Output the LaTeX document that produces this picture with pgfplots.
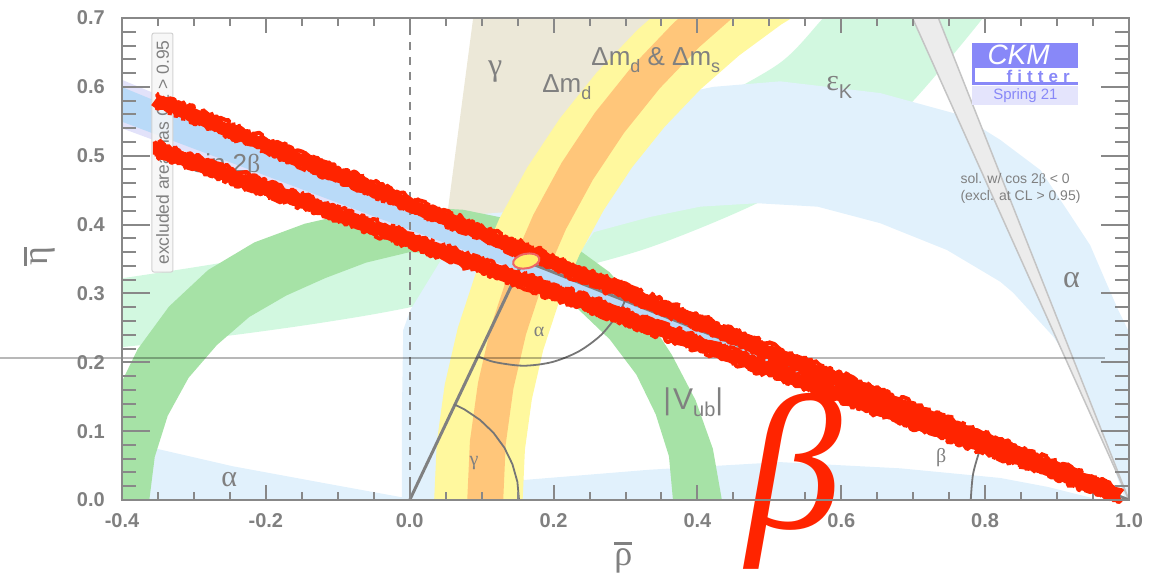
\documentclass[border=0pt]{standalone}
\usepackage{pgfplots}
\pgfplotsset{compat=1.18}
\usepackage{fontspec}
\setmainfont{Liberation Sans}
\newfontfamily\grk{Liberation Serif}
\usetikzlibrary{decorations.pathmorphing}

\definecolor{axgray}{RGB}{136,136,136}
\definecolor{labgray}{RGB}{128,128,128}
\definecolor{arcgray}{RGB}{118,118,118}
\definecolor{epsK}{RGB}{210,248,224}
\definecolor{gam}{RGB}{236,232,216}
\definecolor{alp}{RGB}{225,241,252}
\definecolor{vub}{RGB}{166,226,166}
\definecolor{dmd}{RGB}{255,248,158}
\definecolor{dms}{RGB}{255,198,122}
\definecolor{sbout}{RGB}{226,226,250}
\definecolor{sbin}{RGB}{185,218,248}
\definecolor{cosband}{RGB}{236,236,236}
\definecolor{cosedge}{RGB}{196,196,196}
\definecolor{scrib}{RGB}{255,36,0}
\definecolor{ckmblue}{RGB}{136,136,248}
\definecolor{ckmlight}{RGB}{228,228,252}
\definecolor{ellfill}{RGB}{255,238,110}
\definecolor{elldraw}{RGB}{238,100,100}

% letter with a bar over it
\newcommand\barsym[1]{\setbox0\hbox{#1}\vbox{\hrule height 2.5pt width \wd0\kern 4pt\box0}}

\pgfdeclareplotmark{fitell}{%
  \pgfpathellipse{\pgfpointorigin}{\pgfpoint{13pt}{3pt}}{\pgfpoint{-2pt}{7pt}}%
  \pgfusepathqfillstroke}

\tikzset{
  lab/.style={text=labgray, inner sep=0pt},
  scribcore/.style={scrib, line width=13pt, line cap=butt, line join=bevel, decorate,
    decoration={random steps, segment length=3pt, amplitude=1.5pt}},
  scribedge/.style={scrib, line width=4pt, line cap=butt, line join=bevel, decorate,
    decoration={random steps, segment length=2pt, amplitude=3pt}},
}
\pgfplotsset{
  ckmframe/.style={
    scale only axis, width=1007pt, height=482pt,
    xmin=-0.4, xmax=1.0, ymin=0, ymax=0.7,
    axis line style={axgray, line width=2pt},
    every tick/.style={axgray, line width=2pt},
    tick align=inside,
    axis on top,
  },
}

\begin{document}
\begin{tikzpicture}
% ---------------- constraint regions ----------------
\begin{axis}[ckmframe,
  xtick={-0.4,-0.2,0,0.2,0.4,0.6,0.8,1.0},
  xticklabels={-0.4,-0.2,0.0,0.2,0.4,0.6,0.8,1.0},
  minor x tick num=3,
  ytick=\empty,
  major tick length=15pt, minor tick length=8pt,
  xticklabel style={font=\fontsize{20}{20}\selectfont\bfseries, text=labgray,
    anchor=north, inner sep=0pt, yshift=-13pt},
]
% epsilon_K
\addplot[fill=epsK, draw=none, smooth, tension=0.5] coordinates {
  (-0.45,0.315) (-0.400,0.322) (-0.264,0.344) (-0.111,0.373) (0.001,0.395)
  (0.126,0.428) (0.265,0.489) (0.404,0.569) (0.515,0.635) (0.575,0.700)
  (0.613,0.741) (0.821,0.741) (0.797,0.700) (0.692,0.571) (0.613,0.508)
  (0.483,0.431) (0.334,0.367) (0.195,0.327) (0.001,0.280) (-0.125,0.257)
  (-0.264,0.237) (-0.400,0.222) (-0.45,0.215)} -- cycle;
% gamma
\addplot[fill=gam, draw=none] coordinates {
  (0,0) (0.092,0.73) (0.42,0.73) (0.28,0.5) (0.2,0.35) (0.1,0.15) (0.05,0.05)} -- cycle;
% alpha
\addplot[fill=alp, draw=none] coordinates {
  (-0.45,0.0) (-0.45,0.079) (-0.400,0.086) (-0.246,0.049) (-0.111,0.023)
  (-0.011,0.004) (-0.011,0.116) (-0.009,0.247) (0.001,0.276) (0.042,0.346)
  (0.084,0.414) (0.133,0.418) (0.209,0.516) (0.334,0.581) (0.422,0.600)
  (0.515,0.608) (0.654,0.591) (0.766,0.559) (0.821,0.523) (0.877,0.479)
  (0.914,0.421) (0.946,0.370) (0.967,0.319) (0.985,0.276) (1.009,0.225)
  (1.009,0.0) (0.995,0.0) (0.985,0.029) (0.967,0.087) (0.946,0.145)
  (0.923,0.193) (0.895,0.237) (0.839,0.301) (0.821,0.317) (0.747,0.363)
  (0.654,0.402) (0.567,0.426) (0.483,0.431) (0.404,0.426) (0.334,0.411)
  (0.256,0.389) (0.209,0.319) (0.181,0.232) (0.154,0.145) (0.147,0.058)
  (0.158,0.029) (0.334,0.044) (0.515,0.055) (0.682,0.046) (0.821,0.032)
  (0.887,0.019) (0.960,0.0)} -- cycle;
% |Vub|
\addplot[fill=vub, draw=none] coordinates {
  (0.434,0) (0.4215,0.0743) (0.3975,0.1447) (0.3646,0.2105) (0.3256,0.2732)
  (0.2777,0.3309) (0.2175,0.3767) (0.1477,0.4060) (0.0743,0.4215) (0,0.426)
  (-0.0738,0.4185) (-0.1460,0.4012) (-0.216,0.3741) (-0.2803,0.3340)
  (-0.3347,0.2809) (-0.3785,0.2185) (-0.4106,0.1495) (-0.4304,0.0759) (-0.437,0)
  (-0.362,0) (-0.3545,0.0625) (-0.3364,0.1224) (-0.3074,0.1775) (-0.2681,0.2250)
  (-0.2231,0.2658) (-0.1715,0.2970) (-0.1173,0.3223) (-0.0608,0.3447) (0,0.36)
  (0.0629,0.3565) (0.1241,0.3411) (0.1815,0.3144) (0.2333,0.2781) (0.2781,0.2333)
  (0.3152,0.182) (0.3420,0.1245) (0.3604,0.0636) (0.366,0)} -- cycle;
% Delta m_d
\addplot[fill=dmd, draw=none] coordinates {
  (0.034,0) (0.0377,0.0842) (0.0487,0.1677) (0.0669,0.25) (0.0922,0.3304)
  (0.1245,0.4082) (0.1634,0.4830) (0.2087,0.5541) (0.2600,0.6209) (0.3169,0.6831)
  (0.3791,0.7400) (0.5785,0.7300) (0.5165,0.6906) (0.4581,0.6457) (0.4039,0.5961)
  (0.3543,0.5419) (0.3094,0.4835) (0.2700,0.4215) (0.2360,0.3563) (0.2078,0.2883)
  (0.1857,0.2182) (0.1698,0.1463) (0.1602,0.0735) (0.157,0)} -- cycle;
% Delta m_d & Delta m_s
\addplot[fill=dms, draw=none] coordinates {
  (0.080,0) (0.0837,0.0855) (0.0949,0.1701) (0.1134,0.2536) (0.1391,0.3352)
  (0.1718,0.4141) (0.2113,0.49) (0.2572,0.5621) (0.3093,0.6299) (0.3670,0.6930)
  (0.4301,0.7507) (0.5266,0.7618) (0.4622,0.7124) (0.4024,0.6576) (0.3476,0.5978)
  (0.2981,0.5334) (0.2546,0.4650) (0.2171,0.3930) (0.1861,0.3181) (0.1617,0.2407)
  (0.1441,0.1614) (0.1335,0.0811) (0.130,0)} -- cycle;
% sin 2beta
\addplot[fill=sbout, draw=none] coordinates {(-0.45,0.632) (1.0,0.0) (-0.45,0.559)} -- cycle;
\addplot[fill=sbin, draw=none] coordinates {(-0.45,0.621) (1.0,0.0) (-0.45,0.569)} -- cycle;
% cos 2beta < 0 solution
\addplot[fill=cosband, draw=none] coordinates {(1.0,0.0) (0.6861,0.73) (0.7236,0.73)} -- cycle;
\addplot[cosedge, line width=1.5pt] coordinates {(1.0,0.0) (0.6861,0.73)};
\addplot[cosedge, line width=1.5pt] coordinates {(1.0,0.0) (0.7236,0.73)};
% rho = 0
\addplot[axgray, line width=2pt, dash pattern=on 8pt off 7pt] coordinates {(0,0) (0,0.7)};
% unitarity triangle and its angles
\addplot[labgray, line width=3pt] coordinates {(0,0) (0.158,0.348) (1,0)};
\addplot[arcgray, line width=1.8pt] coordinates {
  (0.152,0) (0.1497,0.0264) (0.1428,0.052) (0.1316,0.076) (0.1164,0.0977)
  (0.0977,0.1164) (0.076,0.1316) (0.0618,0.1389)};
\addplot[arcgray, line width=1.8pt, smooth] coordinates {
  (0.0958,0.2082) (0.1184,0.2002) (0.158,0.195) (0.1976,0.2002) (0.2345,0.2155)
  (0.2662,0.2398) (0.2905,0.2715) (0.2994,0.2897)};
\addplot[arcgray, line width=1.8pt, smooth] coordinates {
  (0.78,0) (0.7833,0.0382) (0.7933,0.0752) (0.7966,0.0838)};
% labels
\node[lab, font=\fontsize{32}{32}\selectfont\grk] at (axis cs:0.1188,0.6215) {γ};
\node[lab, anchor=base west, font=\fontsize{26}{26}\selectfont] at (axis cs:0.184,0.5925)
  {Δm\raisebox{-7pt}{\fontsize{18}{18}\selectfont d}};
\node[lab, anchor=base west, font=\fontsize{26}{26}\selectfont] at (axis cs:0.2523,0.6317)
  {Δm\raisebox{-7pt}{\fontsize{18}{18}\selectfont d} \& Δm\raisebox{-7pt}{\fontsize{18}{18}\selectfont s}};
\node[lab, anchor=base west, font=\fontsize{30}{30}\selectfont] at (axis cs:0.579,0.5954)
  {{\grk ε}\raisebox{-8pt}{\fontsize{20}{20}\selectfont K}};
\node[lab, anchor=base west, font=\fontsize{26}{26}\selectfont] at (axis cs:-0.3026,0.4763)
  {sin 2{\grk β}};
\node[lab, font=\fontsize{30}{30}\selectfont\grk] at (axis cs:-0.251,0.029) {α};
\node[lab, font=\fontsize{32}{32}\selectfont\grk] at (axis cs:0.920,0.3195) {α};
\node[lab, font=\fontsize{20}{20}\selectfont\grk] at (axis cs:0.180,0.244) {α};
\node[lab, font=\fontsize{20}{20}\selectfont\grk] at (axis cs:0.0896,0.0537) {γ};
\node[lab, font=\fontsize{20}{20}\selectfont\grk] at (axis cs:0.739,0.061) {β};
\node[lab, anchor=base west, font=\fontsize{30}{30}\selectfont] at (axis cs:0.3524,0.1307)
  {|\kern2pt V\raisebox{-7pt}{\fontsize{20}{20}\selectfont ub}|};
\node[lab, anchor=north west, align=left, font=\fontsize{14}{17}\selectfont]
  at (axis cs:0.7655,0.4749) {sol. w/ cos 2{\grk β} < 0\\(excl. at CL > 0.95)};
\node[rotate=90, text=labgray, fill=gray!7, fill opacity=0.85, text opacity=1,
  draw=gray!35, line width=1pt, rounded corners=2pt, minimum width=239pt,
  minimum height=21pt, inner sep=0pt, font=\fontsize{17.5}{17.5}\selectfont]
  at (axis cs:-0.3437,0.5046) {excluded area has CL > 0.95};
% CKMfitter logo
\node[fill=ckmblue, anchor=north west, minimum width=106pt, minimum height=42pt, inner sep=0pt]
  at (axis cs:0.782,0.6637) {};
\node[fill=white, anchor=north west, minimum width=103pt, minimum height=14pt, inner sep=0pt]
  at (axis cs:0.786,0.627) {};
\node[fill=ckmlight, anchor=north west, minimum width=106pt, minimum height=19pt, inner sep=0pt]
  at (axis cs:0.782,0.601) {};
\node[text=white, anchor=base west, inner sep=0pt, font=\fontsize{28}{28}\selectfont\itshape]
  at (axis cs:0.803,0.6330) {CKM};
\node[text=ckmblue, anchor=base west, inner sep=0pt,
  font=\fontsize{17}{17}\selectfont\bfseries\addfontfeature{LetterSpace=30}]
  at (axis cs:0.8295,0.607) {fitter};
\node[text=ckmblue, inner sep=0pt, font=\fontsize{15}{15}\selectfont]
  at (axis cs:0.856,0.5867) {Spring 21};
\end{axis}

% ---------------- overlay: y ticks, highlighted sin 2beta edges ----------------
\begin{axis}[ckmframe, clip=false,
  xtick=\empty,
  ytick={0,0.1,0.2,0.3,0.4,0.5,0.6,0.7},
  yticklabels={0.0,0.1,0.2,0.3,0.4,0.5,0.6,0.7},
  minor y tick num=4,
  major tick length=28pt, minor tick length=14pt,
  yticklabel style={font=\fontsize{20}{20}\selectfont\bfseries, text=labgray,
    anchor=east, inner sep=0pt, xshift=-17pt},
]
\addplot[black, opacity=0.28, line width=2.5pt] coordinates {(-0.575,0.206) (0.967,0.206)};
\pgfmathsetseed{42}
% upper edge of the sin 2beta band
\addplot[scribcore] coordinates {(-0.354,0.581) (0.988,0.007)};
\addplot[scribedge, yshift=6.5pt] coordinates {(-0.352,0.581) (0.975,0.012)};
\addplot[scribedge, yshift=-6.5pt] coordinates {(-0.352,0.581) (0.988,0.007)};
% lower edge of the sin 2beta band
\addplot[scribcore] coordinates {(-0.357,0.511) (0.988,0.007)};
\addplot[scribedge, yshift=6.5pt] coordinates {(-0.355,0.511) (0.975,0.012)};
\addplot[scribedge, yshift=-6.5pt] coordinates {(-0.355,0.511) (0.988,0.007)};
\addplot[only marks, mark=fitell, mark options={fill=ellfill, draw=elldraw, line width=2pt}]
  coordinates {(0.162,0.347)};
\node[text=scrib, anchor=base, inner sep=0pt, font=\fontsize{192}{192}\selectfont\grk\itshape]
  at (axis cs:0.535,-0.041) {β};
\node[text=labgray, rotate=90, inner sep=0pt, font=\fontsize{36}{36}\selectfont]
  at (axis cs:-0.514,0.354) {\barsym{\grk η}};
\node[text=labgray, inner sep=0pt, font=\fontsize{36}{36}\selectfont]
  at (axis cs:0.297,-0.084) {\barsym{\grk ρ}};
\end{axis}
\pgfresetboundingbox
\path ([shift={(-122pt,-80pt)}]current axis.south west)
  rectangle ([shift={(36pt,18pt)}]current axis.north east);
\end{tikzpicture}
\end{document}
